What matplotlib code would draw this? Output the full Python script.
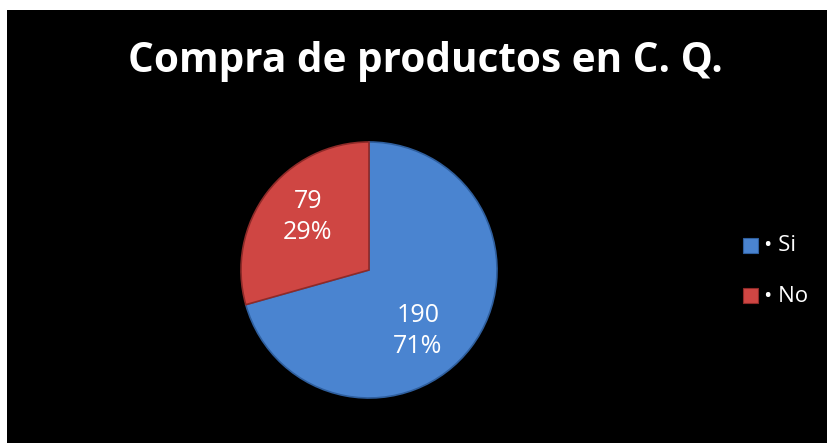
import matplotlib.pyplot as plt
from matplotlib.patches import Rectangle

# Datos de la encuesta
categorias = ['• Si', '• No']
valores = [190, 79]
porcentajes = [71, 29]
colores = ['#4a84d0', '#cf4643']
bordes = ['#2f5f9e', '#8e2a28']

plt.rcParams['font.family'] = ['Open Sans', 'DejaVu Sans']

fig = plt.figure(figsize=(8.28, 4.43), dpi=100)
fig.patch.set_facecolor('white')
# fondo negro del grafico
fig.patches.append(Rectangle((7 / 828, 0), 1 - 7 / 828, 1 - 10 / 443,
                             transform=fig.transFigure, facecolor='black',
                             edgecolor='none', zorder=-5))

ax = fig.add_axes([(369 - 140) / 828, (443 - 270 - 140) / 443, 280 / 828, 280 / 443])
ax.patch.set_visible(False)
wedges, _ = ax.pie(valores, colors=colores, startangle=90, counterclock=False,
                   radius=128 / 140,
                   wedgeprops=dict(edgecolor='#222222', linewidth=1.2))
for w, b in zip(wedges, bordes):
    w.set_edgecolor(b)
ax.set_xlim(-1, 1)
ax.set_ylim(-1, 1)
ax.set_aspect('equal')
ax.axis('off')

# etiquetas de valor y porcentaje
pos = [(418, 331), (308, 217)]
for (px, py), v, p in zip(pos, valores, porcentajes):
    fig.text(px / 828, 1 - py / 443, f'{v}\n{p}%', color='white', fontsize=18,
             ha='center', va='center', linespacing=1.3)

fig.text(425 / 828, 1 - 62 / 443, 'Compra de productos en C. Q.', color='white',
         fontsize=29.2, fontweight='bold', ha='center', va='center')

# leyenda
for i, (cat, col) in enumerate(zip(categorias, colores)):
    y = 1 - (246 + i * 50) / 443
    fig.patches.append(Rectangle((743 / 828, y - 7 / 443), 15 / 828, 15 / 443,
                                 transform=fig.transFigure, facecolor=col,
                                 edgecolor=bordes[i], linewidth=0.8, zorder=3))
    fig.text(764 / 828, y, cat, color='white', fontsize=16, ha='left', va='center')

fig.savefig('out.png', dpi=100, facecolor=fig.get_facecolor())
